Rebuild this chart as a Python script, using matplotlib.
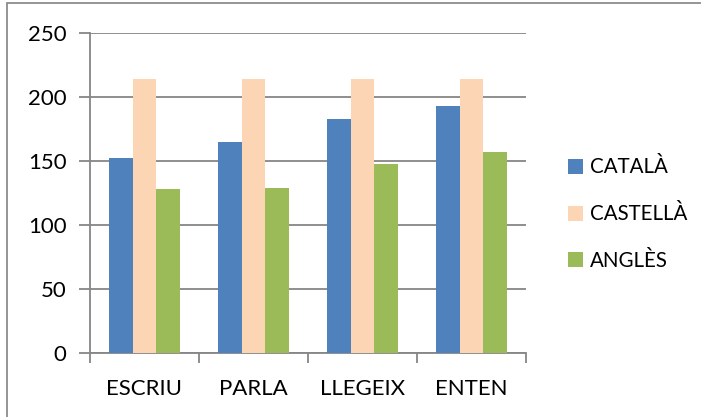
import matplotlib
matplotlib.use("Agg")
import matplotlib.pyplot as plt
import numpy as np
from matplotlib.patches import Rectangle

# ── data ────────────────────────────────────────────────
categories = ["ESCRIU", "PARLA", "LLEGEIX", "ENTEN"]
catala = [152, 165, 183, 193]
castella = [214, 214, 214, 214]
angles = [128, 129, 148, 157]
series_names = ["CATALÀ", "CASTELLÀ", "ANGLÈS"]
colors = ["#4F81BD", "#FCD5B5", "#9BBB59"]
y_ticks = [0, 50, 100, 150, 200, 250]

plt.rcParams["font.family"] = ["Lato", "DejaVu Sans"]

W, H = 701, 417
fig = plt.figure(figsize=(W / 100, H / 100), dpi=100)
ax = fig.add_axes([90 / W, 1 - 353 / H, 436 / W, 320 / H])

# outer chart frame (only left/top edges visible in the crop)
fig.patches.append(Rectangle((7 / W, -0.5), 2, 0.5 + (1 - 3 / H), transform=fig.transFigure,
                             fill=False, edgecolor="#8c8c8c", linewidth=1.3, zorder=0))

x = np.arange(len(categories))
bw = 0.22
for i, (vals, name, c) in enumerate(zip([catala, castella, angles], series_names, colors)):
    ax.bar(x + (i - 1) * bw, vals, width=bw, color=c, label=name, zorder=3)

ax.set_xlim(-0.5, len(categories) - 0.5)
ax.set_ylim(0, 250)
ax.set_yticks(y_ticks)
ax.set_yticklabels([str(t) for t in y_ticks], fontsize=16)
ax.yaxis.grid(True, color="#868686", linewidth=1.3, zorder=0)
ax.set_axisbelow(True)

ax.set_xticks(x)
ax.set_xticklabels(categories, fontsize=16)
ax.tick_params(axis="x", length=0, pad=19)
ax.set_xticks(np.arange(len(categories) + 1) - 0.5, minor=True)
ax.tick_params(axis="x", which="minor", length=7, width=1.3, color="#868686")
ax.tick_params(axis="y", length=8, width=1.3, color="#868686", pad=9)

for s in ["top", "right"]:
    ax.spines[s].set_visible(False)
for s in ["left", "bottom"]:
    ax.spines[s].set_color("#868686")
    ax.spines[s].set_linewidth(1.3)

leg = fig.legend(loc="upper left", bbox_to_anchor=(549 / W, 1 - 139 / H), frameon=False,
                 fontsize=14.8, handlelength=0.75, handleheight=0.75, handletextpad=0.35,
                 labelspacing=1.3)

fig.savefig("out.png", dpi=100, facecolor="white")
